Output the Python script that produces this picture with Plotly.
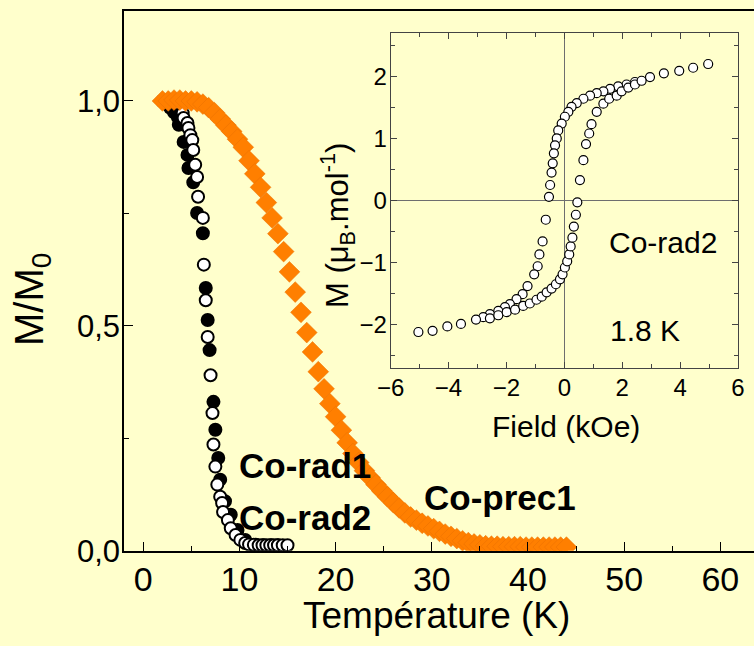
import plotly.graph_objects as go

# ---------------- main plot data ----------------
T_rad1 = [2.0, 2.3, 2.8, 3.2, 3.6, 3.7, 4.2, 4.6, 4.7, 5.2, 5.6, 6.2, 6.5, 6.7, 6.9, 7.3, 7.5, 7.8, 8.0,
          8.5, 9.1, 9.8, 10.6, 11.7, 12.5, 13.3, 14.0]
M_rad1 = [1.0, 0.995, 0.985, 0.975, 0.964, 0.947, 0.909, 0.880, 0.851, 0.819, 0.751, 0.706, 0.584, 0.513, 0.446,
          0.331, 0.269, 0.206, 0.158, 0.110, 0.080, 0.046, 0.024, 0.013, 0.012, 0.012, 0.012]

T_rad2 = [2.0, 2.5, 3.0, 3.5, 4.1, 4.2, 4.6, 4.7, 4.9, 5.1, 5.2, 5.4, 5.6, 5.7, 6.2, 6.3, 6.5, 6.7, 7.0, 7.2,
          7.3, 7.5, 7.7, 8.0, 8.2, 8.3, 8.8, 9.1, 9.6, 10.1, 10.6, 11.0, 11.5, 12.0, 12.4, 12.8, 13.2, 13.6,
          14.0, 14.5, 15.0]
M_rad2 = [1.0, 1.0, 0.998, 0.995, 0.973, 0.962, 0.951, 0.940, 0.924, 0.913, 0.891, 0.858, 0.831, 0.787, 0.740,
          0.636, 0.557, 0.475, 0.390, 0.306, 0.236, 0.187, 0.147, 0.120, 0.106, 0.086, 0.068, 0.050, 0.035,
          0.024, 0.017, 0.014, 0.013, 0.012, 0.012, 0.012, 0.012, 0.012, 0.012, 0.012, 0.012]

T_prec1 = [2.0, 2.6, 3.2, 3.8, 4.4, 5.0, 5.6, 6.2, 6.8, 7.4, 8.0, 8.6, 9.2, 9.8, 10.4, 11.0, 11.6, 12.2, 12.8,
           13.4, 14.0, 14.6, 15.2, 15.8, 16.4, 17.0, 17.6, 18.2, 18.8, 19.4, 20.0, 20.6, 21.2, 21.8, 22.4,
           23.0, 23.6, 24.2, 24.8, 25.4, 26.0, 26.6, 27.2, 27.8, 28.4, 29.0, 29.6, 30.2, 30.8, 31.4, 32.0,
           32.6, 33.2, 33.8, 34.4, 35.0, 35.6, 36.2, 36.8, 37.4, 38.0, 38.6, 39.2, 39.8, 40.4, 41.0, 41.6,
           42.2, 42.8, 43.4, 44.0]
M_prec1 = [1.0, 1.0, 1.002, 1.002, 1.0, 1.0, 0.998, 0.993, 0.985, 0.974, 0.960, 0.946, 0.932, 0.915, 0.897,
           0.867, 0.838, 0.808, 0.774, 0.740, 0.705, 0.665, 0.620, 0.575, 0.530, 0.485, 0.442, 0.398, 0.360,
           0.327, 0.298, 0.268, 0.240, 0.216, 0.196, 0.178, 0.162, 0.147, 0.133, 0.120, 0.107, 0.095, 0.084,
           0.075, 0.068, 0.061, 0.055, 0.049, 0.043, 0.037, 0.032, 0.027, 0.022, 0.018, 0.015, 0.013, 0.011,
           0.010, 0.010, 0.009, 0.009, 0.009, 0.009, 0.008, 0.008, 0.008, 0.008, 0.008, 0.008, 0.008, 0.008]

# ---------------- inset (hysteresis) data ----------------
H_desc = [4.97, 4.45, 3.97, 3.44, 2.96, 2.44, 2.15, 1.86, 1.58, 1.35, 1.12, 0.89, 0.66, 0.43, 0.25, 0.14,
          0.02, -0.09, -0.21, -0.26, -0.32, -0.36, -0.40, -0.44, -0.49, -0.53, -0.64, -0.75, -0.86, -0.92,
          -1.04, -1.27, -1.44, -1.65, -1.88, -2.05, -2.28, -2.57, -2.80, -3.05, -3.57, -4.04, -4.55, -5.04]
M_desc = [2.20, 2.14, 2.09, 2.05, 1.99, 1.91, 1.87, 1.84, 1.80, 1.76, 1.73, 1.69, 1.64, 1.57, 1.51, 1.43,
          1.35, 1.24, 1.13, 1.00, 0.89, 0.76, 0.60, 0.45, 0.25, 0.06, -0.31, -0.66, -0.87, -1.06,
          -1.19, -1.38, -1.51, -1.59, -1.67, -1.72, -1.78, -1.83, -1.88, -1.92, -1.99, -2.03, -2.10, -2.12]
H_asc = [-2.57, -2.28, -1.99, -1.70, -1.42, -1.19, -0.96, -0.78, -0.61, -0.44, -0.29, -0.15, -0.06, 0.02,
         0.10, 0.17, 0.22, 0.28, 0.33, 0.40, 0.45, 0.54, 0.66, 0.75, 0.86, 0.94, 1.12, 1.35, 1.55, 1.81,
         1.98, 2.21, 2.44, 2.67]
M_asc = [-1.90, -1.85, -1.80, -1.76, -1.70, -1.66, -1.60, -1.55, -1.48, -1.42, -1.35, -1.27, -1.19, -1.08,
         -0.98, -0.87, -0.74, -0.60, -0.42, -0.23, -0.03, 0.33, 0.65, 0.91, 1.08, 1.23, 1.43, 1.56, 1.64, 1.69,
         1.76, 1.82, 1.87, 1.93]

x_ticks_main = [0, 10, 20, 30, 40, 50, 60]
y_ticks_main = [0.0, 0.5, 1.0]
y_ticklabels_main = ["0,0", "0,5", "1,0"]

BG = "#FFFFCC"
FONT = "Liberation Sans, Arial, sans-serif"

fig = go.Figure()

fig.add_trace(go.Scatter(x=T_rad1, y=M_rad1, mode="markers", name="Co-rad1",
                         marker=dict(symbol="circle", size=12, color="black",
                                     line=dict(color="black", width=2))))
fig.add_trace(go.Scatter(x=T_rad2, y=M_rad2, mode="markers", name="Co-rad2",
                         marker=dict(symbol="circle", size=12, color="white",
                                     line=dict(color="black", width=2))))
fig.add_trace(go.Scatter(x=T_prec1, y=M_prec1, mode="markers", name="Co-prec1",
                         marker=dict(symbol="diamond", size=16, color="#FF7F00",
                                     line=dict(color="#E87000", width=0.5))))

fig.add_trace(go.Scatter(x=H_desc + H_asc, y=M_desc + M_asc, mode="markers", name="loop",
                         xaxis="x2", yaxis="y2",
                         marker=dict(symbol="circle", size=9, color="white",
                                     line=dict(color="black", width=1.2))))

fig.update_layout(
    width=754, height=646,
    margin=dict(l=0, r=0, t=0, b=0, pad=0),
    paper_bgcolor=BG, plot_bgcolor=BG,
    showlegend=False,
    font=dict(family=FONT, color="black"),
    xaxis=dict(domain=[124 / 754, 1.0], range=[-2, 63.5], showgrid=False, zeroline=False,
               automargin=False,
               showline=True, linecolor="black", linewidth=1.5, mirror=True,
               ticks="inside", ticklen=9, tickwidth=1, tickcolor="black",
               tickvals=x_ticks_main, tickfont=dict(size=34),
               minor=dict(dtick=5, tick0=0, ticks="inside", ticklen=5, tickcolor="black"),
               ticklabelstandoff=-2),
    yaxis=dict(domain=[(646 - 550.7) / 646, (646 - 11) / 646], range=[0, 1.2], showgrid=False,
               automargin=False,
               zeroline=False, showline=True, linecolor="black", linewidth=1.5, mirror=False,
               ticks="inside", ticklen=9, tickwidth=1, tickcolor="black",
               tickvals=y_ticks_main, ticktext=y_ticklabels_main,
               tickfont=dict(size=31),
               minor=dict(dtick=0.25, tick0=0, ticks="inside", ticklen=5, tickcolor="black"),
               ticklabelstandoff=-4),
    xaxis2=dict(domain=[390.6 / 754, 738 / 754], anchor="y2", range=[-6, 6], showgrid=False,
                automargin=False,
                zeroline=True, zerolinecolor="#6E6E6E", zerolinewidth=1,
                showline=True, linecolor="#444444", linewidth=1, mirror="ticks",
                ticks="inside", ticklen=6, tickcolor="#444444", dtick=2, tick0=0,
                tickfont=dict(size=24), ticklabelstandoff=-2,
                minor=dict(dtick=1, ticks="inside", ticklen=4, tickcolor="#444444")),
    yaxis2=dict(domain=[(646 - 368) / 646, (646 - 33) / 646], anchor="x2", range=[-2.7, 2.7],
                automargin=False,
                showgrid=False, zeroline=True, zerolinecolor="#6E6E6E", zerolinewidth=1,
                showline=True, linecolor="#444444", linewidth=1, mirror="ticks",
                ticks="inside", ticklen=6, tickcolor="#444444", dtick=1, tick0=0,
                tickfont=dict(size=24), ticklabelstandoff=-2,
                minor=dict(dtick=0.5, ticks="inside", ticklen=4, tickcolor="#444444")),
)


def label(text, px, py, size, angle=0):
    return dict(text=text, x=px / 754, y=(646 - py) / 646, xref="paper", yref="paper",
                xanchor="center", yanchor="middle", showarrow=False, textangle=angle,
                font=dict(size=size))


ann = [
    label("Température (K)", 436, 615, 37),
    label("M/M<sub>0</sub>", 32, 300, 40, -90),
    label("Field (kOe)", 566, 426, 30),
    label("M (μ<sub>B</sub>.mol<sup>-1</sup>)", 337, 226, 31, -90),
    label("<b>Co-rad1</b>", 305, 465, 35),
    label("<b>Co-rad2</b>", 305, 517, 35),
    label("<b>Co-prec1</b>", 500, 497, 35),
    label("Co-rad2", 663, 242, 30),
    label("1.8 K", 645, 330, 30),
]
fig.update_layout(annotations=ann)

fig.write_html("out.html")
